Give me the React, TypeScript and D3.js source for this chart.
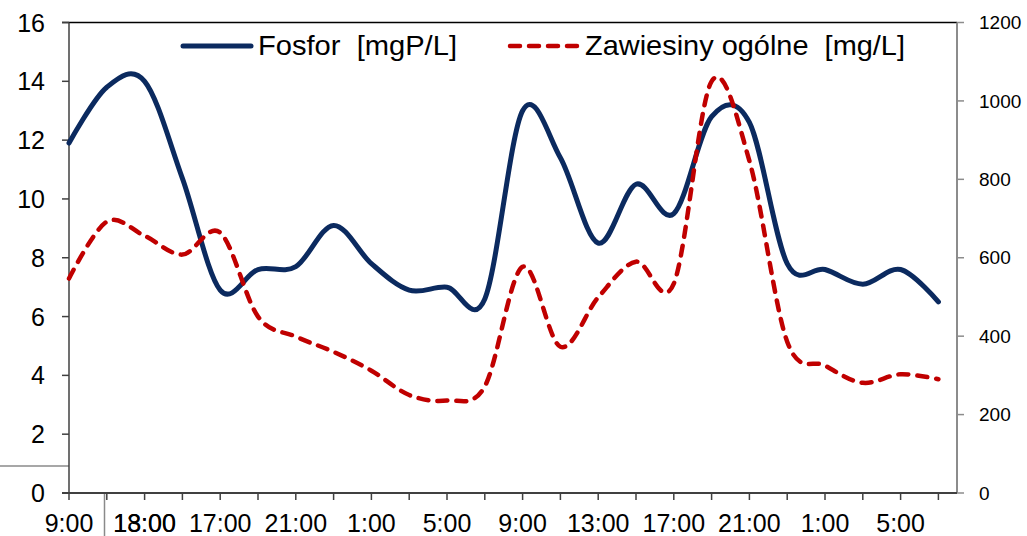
import React from "react";
import * as d3 from "d3";

const xLabels = ["9:00", "13:00", "17:00", "21:00", "1:00", "5:00", "9:00", "13:00", "17:00", "21:00", "1:00", "5:00"];
const overlayLabel = "18:00";
const fosfor = [11.9, 13.8, 14.0, 10.7, 6.9, 7.6, 7.7, 9.1, 7.8, 6.9, 7.0, 6.6, 13.0, 11.4, 8.5, 10.5, 9.5, 12.8, 12.6, 7.8, 7.6, 7.1, 7.6, 6.5];
const zawiesiny = [547, 692, 656, 608, 664, 450, 399, 360, 312, 250, 236, 272, 577, 373, 499, 590, 534, 1050, 847, 386, 325, 281, 303, 290];
const leftTicks = [0, 2, 4, 6, 8, 10, 12, 14, 16];
const rightTicks = [0, 200, 400, 600, 800, 1000, 1200];
const seriesNames = ["Fosfor  [mgP/L]", "Zawiesiny ogólne  [mg/L]"];

const W = 1027, H = 536;
const left = 69, right = 957, top = 22.5, bottom = 493;
const FONT = "'Liberation Sans', Arial, sans-serif";

export default function App() {
  const n = fosfor.length;
  const x = d3.scaleLinear().domain([0, n - 1]).range([left, 938.4]);
  const yL = d3.scaleLinear().domain([0, 16]).range([bottom, top]);
  const yR = d3.scaleLinear().domain([0, 1200]).range([bottom, top]);
  const curve = d3.curveCardinal.tension(0);
  const lineF = d3.line<number>().x((_, i) => x(i)).y((d) => yL(d)).curve(curve);
  const lineZ = d3.line<number>().x((_, i) => x(i)).y((d) => yR(d)).curve(curve);
  const idx = d3.range(n);
  const dark = "#404040";

  return (
    <svg width={W} height={H} style={{ position: "absolute", left: 0, top: 0, background: "#fff" }}>
      {/* artifacts */}
      <line x1={0} x2={left} y1={466} y2={466} stroke="#8a8a8a" strokeWidth={1.5} />
      <line x1={104.5} x2={104.5} y1={494} y2={536} stroke="#8a8a8a" strokeWidth={1.5} />

      {/* top border */}
      <line x1={62} x2={right} y1={top} y2={top} stroke="#000" strokeWidth={1.5} />
      {/* right axis */}
      <line x1={right} x2={right} y1={top} y2={bottom} stroke="#8c8c8c" strokeWidth={2} />
      {rightTicks.map((t) => (
        <g key={"r" + t}>
          <line x1={right} x2={964} y1={yR(t)} y2={yR(t)} stroke="#8c8c8c" strokeWidth={1.5} />
          <text x={979} y={yR(t)} dy="0.35em" fontFamily={FONT} fontSize={19} fill="#000">{t}</text>
        </g>
      ))}
      {/* left axis */}
      <line x1={left} x2={left} y1={top} y2={bottom} stroke={dark} strokeWidth={1.5} />
      {leftTicks.map((t) => (
        <g key={"l" + t}>
          <line x1={62} x2={left} y1={yL(t)} y2={yL(t)} stroke={dark} strokeWidth={1.5} />
          <text x={45} y={yL(t)} dy="0.36em" textAnchor="end" fontFamily={FONT} fontSize={25} fill="#000">{t}</text>
        </g>
      ))}
      {/* x axis */}
      <line x1={62} x2={right} y1={bottom} y2={bottom} stroke={dark} strokeWidth={2} />
      {idx.map((i) => (
        <line key={"x" + i} x1={x(i)} x2={x(i)} y1={bottom} y2={500} stroke={dark} strokeWidth={1.5} />
      ))}
      {xLabels.map((l, k) => (
        <text key={"xl" + k} x={x(k * 2)} y={532} textAnchor="middle" fontFamily={FONT} fontSize={25} fill="#000">{l}</text>
      ))}
      <text x={x(2)} y={532} textAnchor="middle" fontFamily={FONT} fontSize={25} fill="#000">{overlayLabel}</text>

      {/* series */}
      <path d={lineF(fosfor) || ""} fill="none" stroke="#0b2a5f" strokeWidth={5} strokeLinejoin="round" strokeLinecap="round" />
      <path d={lineZ(zawiesiny) || ""} fill="none" stroke="#c00000" strokeWidth={4.5} strokeDasharray="10 9" strokeLinecap="round" />

      {/* legend */}
      <line x1={183} x2={251} y1={46} y2={46} stroke="#0b2a5f" strokeWidth={5} strokeLinecap="round" />
      <text x={258} y={55} fontFamily={FONT} fontSize={28} fill="#000" textLength={199} lengthAdjust="spacingAndGlyphs" style={{ whiteSpace: "pre" }}>{seriesNames[0]}</text>
      <line x1={510} x2={578} y1={46} y2={46} stroke="#c00000" strokeWidth={4.5} strokeDasharray="10 9" strokeLinecap="round" />
      <text x={585} y={55} fontFamily={FONT} fontSize={28} fill="#000" textLength={320} lengthAdjust="spacingAndGlyphs" style={{ whiteSpace: "pre" }}>{seriesNames[1]}</text>
    </svg>
  );
}
